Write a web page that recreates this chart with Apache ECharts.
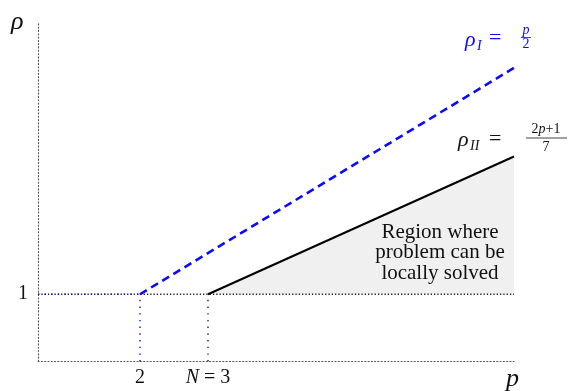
<!DOCTYPE html>
<html>
<head>
<meta charset="utf-8">
<script src="https://cdn.jsdelivr.net/npm/echarts@6/dist/echarts.min.js"></script>
<style>
  html, body { margin: 0; padding: 0; background: #fff; }
  #chart { width: 569px; height: 391px; }
</style>
</head>
<body>
<div id="chart"></div>
<script>
// Axis ranges (p horizontally, rho vertically)
const pRange = [0.5, 7.5];
const rhoRange = [0.37, 3.55];

// Tick positions and their labels
const pTicks = [2, 3];
const pTickLabels = { 2: '2', 3: '{i|N} = 3' };
const rhoTicks = [1];

// Bound I: rho = p / 2 (dashed blue), from its start to the plot edge
const boundI = [[2, 1], [7.5, 3.12]];
// Bound II: rho = (2p + 1) / 7 (solid black)
const boundII = [[3, 1], [7.5, 2.29]];

// Reference guides at rho = 1 and at p = 2, p = 3
const rhoOneLine = [[0.5, 1], [7.5, 1]];
const rhoOneBlue = [[0.5, 1], [2, 1]];
const guideP2 = [[2, 0.37], [2, 1]];
const guideP3 = [[3, 0.37], [3, 1]];

const SERIF = 'Liberation Serif';
const BLUE = '#0a0aff';
const INK = '#111';

const chart = echarts.init(document.getElementById('chart'), null, { renderer: 'canvas' });

function guide(data, color, dash, width) {
  return {
    type: 'line', data, symbol: 'none', silent: true,
    lineStyle: { color, width, type: dash, cap: 'butt' }
  };
}

// plain text helper for the annotations
function txt(text, x, y, size, color, opts) {
  return {
    type: 'text', x, y, z: 100,
    style: Object.assign({
      text, fontFamily: SERIF, fontSize: size, fill: color,
      align: 'left', verticalAlign: 'middle'
    }, opts || {})
  };
}

const axisLineStyle = { color: '#555', width: 1.1, type: [1.1, 2.2] };

chart.setOption({
  animation: false,
  grid: { left: 38, top: 22, width: 476, height: 339.5 },
  xAxis: {
    type: 'value', min: pRange[0], max: pRange[1],
    splitLine: { show: false },
    axisTick: { show: false },
    axisLine: { onZero: false, lineStyle: axisLineStyle },
    axisLabel: {
      customValues: pTicks,
      margin: 6,
      color: INK, fontFamily: SERIF, fontSize: 20,
      formatter: v => pTickLabels[v],
      rich: { i: { fontStyle: 'italic', fontFamily: SERIF, fontSize: 20, color: INK } }
    }
  },
  yAxis: {
    type: 'value', min: rhoRange[0], max: rhoRange[1],
    splitLine: { show: false },
    axisTick: { show: false },
    axisLine: { onZero: false, lineStyle: axisLineStyle },
    axisLabel: {
      customValues: rhoTicks,
      margin: 10,
      color: INK, fontFamily: SERIF, fontSize: 20
    }
  },
  series: [
    {
      // shaded feasible region between bound II and rho = 1
      type: 'line', data: boundII, symbol: 'none', silent: true,
      lineStyle: { width: 0 },
      areaStyle: { origin: 1, color: '#f0f0f0', opacity: 1 }
    },
    guide(rhoOneLine, '#222', [1.3, 2], 1.3),
    guide(rhoOneBlue, BLUE, [1.3, 5.3], 1.3),
    guide(guideP2, BLUE, [1.4, 5.3], 1.4),
    guide(guideP3, '#222', [1.4, 5.3], 1.4),
    {
      type: 'line', data: boundII, symbol: 'none', silent: true,
      lineStyle: { color: '#000', width: 2 }
    },
    {
      type: 'line', data: boundI, symbol: 'none', silent: true,
      lineStyle: { color: BLUE, width: 2.6, type: [8, 5] }
    }
  ],
  graphic: [
    // axis names
    txt('ρ', 11, 22, 26, INK, { fontStyle: 'italic' }),
    txt('p', 506, 379, 26, INK, { fontStyle: 'italic' }),
    // bound I label
    txt('ρ', 465, 40, 22, BLUE, { fontStyle: 'italic' }),
    txt('I', 477, 46, 14, BLUE, { fontStyle: 'italic' }),
    txt('=', 489, 38, 22, BLUE),
    txt('p', 526, 30, 14, BLUE, { fontStyle: 'italic', align: 'center' }),
    { type: 'line', z: 100, shape: { x1: 521, y1: 37.5, x2: 531, y2: 37.5 }, style: { stroke: BLUE, lineWidth: 0.8 } },
    txt('2', 526, 44, 14, BLUE, { align: 'center' }),
    // bound II label
    txt('ρ', 458, 140, 22, INK, { fontStyle: 'italic' }),
    txt('II', 470, 146, 14, INK, { fontStyle: 'italic' }),
    txt('=', 489, 139, 22, INK),
    txt('2{i|p}+1', 546, 129, 14, INK, { align: 'center',
      rich: { i: { fontFamily: SERIF, fontStyle: 'italic', fontSize: 14, fill: INK } } }),
    { type: 'line', z: 100, shape: { x1: 526, y1: 138, x2: 567, y2: 138 }, style: { stroke: INK, lineWidth: 0.8 } },
    txt('7', 546, 147, 14, INK, { align: 'center' }),
    // region annotation
    txt('Region where', 440, 232, 21, INK, { align: 'center' }),
    txt('problem can be', 440, 252.5, 21, INK, { align: 'center' }),
    txt('locally solved', 440, 273, 21, INK, { align: 'center' })
  ]
});
</script>
</body>
</html>
